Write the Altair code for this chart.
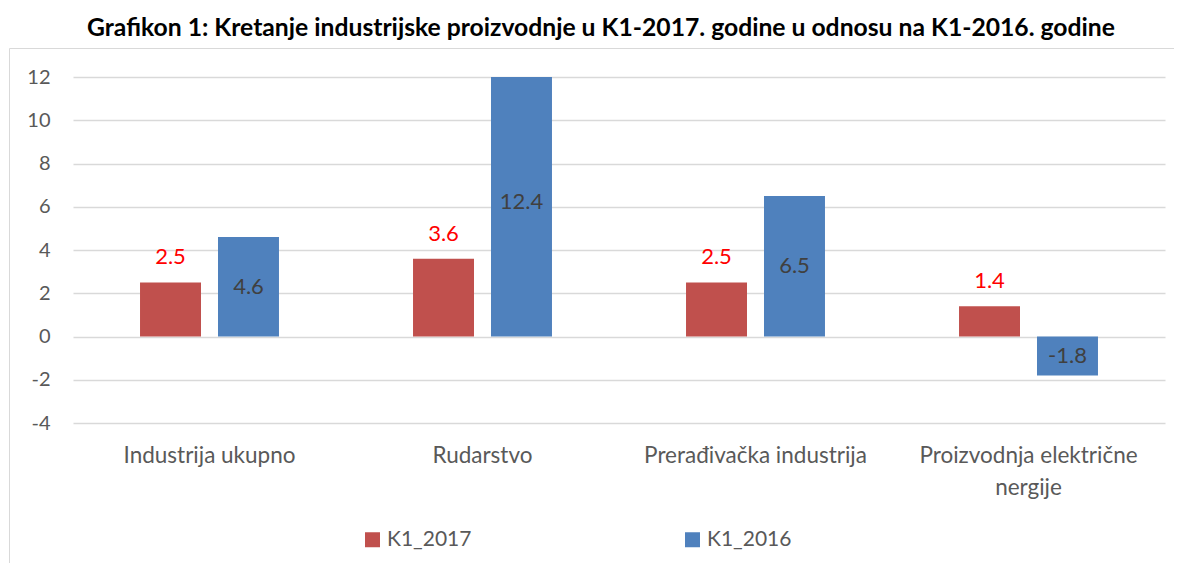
import altair as alt
import pandas as pd

categories = ["Industrija ukupno", "Rudarstvo", "Prerađivačka industrija", "Proizvodnja električne nergije"]
k1_2017 = [2.5, 3.6, 2.5, 1.4]
k1_2016 = [4.6, 12.4, 6.5, -1.8]
series = ["K1_2017", "K1_2016"]
y_ticks = [-4, -2, 0, 2, 4, 6, 8, 10, 12]
colors = ["#C0504D", "#4F81BD"]

rows = []
for c, a, b in zip(categories, k1_2017, k1_2016):
    rows.append({"cat": c, "series": series[0], "value": a})
    rows.append({"cat": c, "series": series[1], "value": b})
df = pd.DataFrame(rows)

FONT = "Lato"
W, H = 1092, 346

x_enc = alt.X("cat:N", sort=categories, title=None,
              scale=alt.Scale(paddingInner=0.491, paddingOuter=0.2455),
              axis=alt.Axis(labelAngle=0, labelFontSize=22.5, labelColor="#595959", labelFont=FONT,
                            labelPadding=21, labelLineHeight=32, ticks=False, domain=False, grid=False,
                            labelLimit=400,
                            labelExpr="datum.value == 'Proizvodnja električne nergije' ? ['Proizvodnja električne', 'nergije'] : datum.label"))
xo_enc = alt.XOffset("series:N", sort=series, scale=alt.Scale(paddingInner=0.218, paddingOuter=0))
y_scale = alt.Scale(domain=[-4, 12], nice=False)

base = alt.Chart(df).transform_calculate(
    lbl="replace(format(datum.value, '.1f'), '\u2212', '-')"
)

frame = alt.Chart(pd.DataFrame({"d": [0]})).mark_rect(fill=None, stroke="#D9D9D9", strokeWidth=1).encode(
    x=alt.value(-63.5), x2=alt.value(W + 60), y=alt.value(-28.5), y2=alt.value(H + 200)
)

bars = base.mark_bar(clip=True).encode(
    x=x_enc,
    xOffset=xo_enc,
    y=alt.Y("value:Q", scale=y_scale, title=None,
            axis=alt.Axis(values=y_ticks, labelFontSize=20, labelColor="#595959", labelFont=FONT,
                          labelPadding=23, ticks=False, domain=False, gridColor="#D9D9D9", gridWidth=1.5,
                          labelExpr="replace(datum.label, '\u2212', '-')")),
    color=alt.Color("series:N", sort=series, scale=alt.Scale(domain=series, range=colors),
                    legend=alt.Legend(title=None, orient="none", legendX=289, legendY=452, direction="horizontal",
                                      columns=2, columnPadding=210, symbolType="square", symbolSize=225,
                                      symbolStrokeWidth=0, labelFontSize=21, labelColor="#595959",
                                      labelFont=FONT, symbolOffset=0, labelOffset=4)),
)

red_text = base.transform_filter(alt.datum.series == "K1_2017").mark_text(
    dy=-25, fontSize=22, color="#FF0000", font=FONT, baseline="middle"
).encode(x=x_enc, xOffset=xo_enc, y=alt.Y("value:Q", scale=y_scale), text="lbl:N")

blue_text = base.transform_filter(alt.datum.series == "K1_2016").transform_calculate(
    mid="datum.value / 2"
).mark_text(fontSize=22, color="#404040", font=FONT, baseline="middle").encode(
    x=x_enc, xOffset=xo_enc, y=alt.Y("mid:Q", scale=y_scale), text="lbl:N")

chart = alt.layer(frame, bars, red_text, blue_text).properties(
    width=W, height=H,
    autosize=alt.AutoSizeParams(type="none"),
    padding={"left": 65, "top": 69, "right": 9, "bottom": 140},
    title=alt.TitleParams("Grafikon 1: Kretanje industrijske proizvodnje u K1-2017. godine u odnosu na K1-2016. godine",
                          font=FONT, fontSize=24.7, fontWeight="bold", color="#000000", anchor="middle",
                          frame="group", dx=-18, offset=7),
).configure_view(stroke=None)

chart.save("out.html", embed_options={"renderer": "svg", "actions": False})
